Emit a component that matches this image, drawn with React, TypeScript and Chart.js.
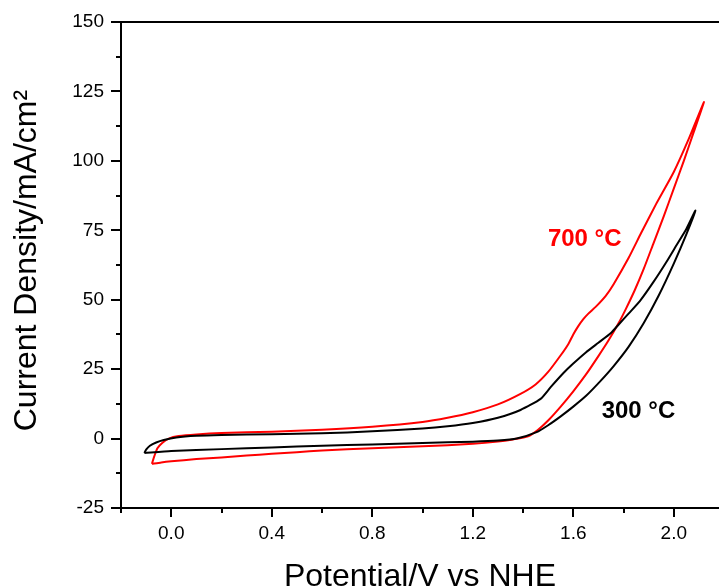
import React, { useEffect, useRef } from "react";
import { Chart, registerables } from "chart.js";

Chart.register(...registerables);

// ---- Data ----
// 300 °C loop: forward (anodic) scan then reverse scan
const black300X = [
  -0.107, -0.1, -0.085, -0.06, -0.03, 0.02, 0.1, 0.2, 0.4, 0.6, 0.8, 1.0, 1.1, 1.2, 1.3, 1.39, 1.47, 1.51, 1.56, 1.6, 1.65, 1.7, 1.75, 1.78, 1.82, 1.865, 1.92, 1.97, 2.01, 2.05, 2.086,
  2.05, 2.0, 1.94, 1.88, 1.82, 1.76, 1.706, 1.65, 1.6, 1.55, 1.5, 1.454, 1.375, 1.3, 1.2, 1.0, 0.8, 0.6, 0.4, 0.2, 0.0, -0.107,
];
const black300Y = [
  -5.2, -4.0, -2.6, -1.4, -0.5, 0.4, 1.0, 1.3, 1.6, 1.9, 2.6, 3.6, 4.4, 5.6, 7.5, 10.3, 14.3, 18.5, 23.5, 27, 31, 34.5, 38, 41, 45, 49.5, 56.5, 63.5, 69.5, 75.5, 82.1,
  73.5, 63, 51.5, 41.5, 33, 26, 20.5, 15.3, 11.5, 8, 4.8, 2.3, 0, -0.7, -1.1, -1.6, -2.1, -2.6, -3.2, -3.8, -4.5, -5.2,
];

// 700 °C loop
const red700X = [
  -0.077, -0.068, -0.055, -0.035, -0.01, 0.03, 0.1, 0.2, 0.4, 0.6, 0.8, 1.0, 1.1, 1.2, 1.3, 1.39, 1.45, 1.5, 1.55, 1.58, 1.6, 1.62, 1.64, 1.66, 1.69, 1.73, 1.76, 1.82, 1.87, 1.93, 2.0, 2.06, 2.12,
  2.08, 2.04, 2.0, 1.96, 1.92, 1.88, 1.845, 1.81, 1.78, 1.74, 1.7, 1.65, 1.6, 1.55, 1.5, 1.46, 1.42, 1.36, 1.3, 1.2, 1.0, 0.8, 0.6, 0.5, 0.4, 0.3, 0.2, 0.1, 0.0, -0.04, -0.077,
];
const red700Y = [
  -9.1, -6.5, -3.5, -1.5, 0.0, 0.9, 1.5, 2.0, 2.5, 3.2, 4.3, 6.0, 7.5, 9.5, 12.3, 16.1, 19.5, 24, 30, 34, 37.5, 40.5, 43, 45, 47.5, 51.5, 55.5, 65, 74, 84.5, 96, 108, 121.2,
  110.5, 100, 90, 80, 70.5, 61, 53.5, 46.8, 41.5, 35.3, 29.7, 23, 17, 11.5, 6.5, 3.2, 0.8, -0.3, -1.1, -1.9, -2.8, -3.5, -4.3, -4.9, -5.5, -6.1, -6.8, -7.4, -8.2, -8.6, -9.1,
];

const seriesLabels = ["300 °C", "700 °C"];
const xTickLabels = ["0.0", "0.4", "0.8", "1.2", "1.6", "2.0"];
const yTickValues = [-25, 0, 25, 50, 75, 100, 125, 150];

const X_MIN = -0.2;
const X_MAX = 2.18;
const Y_MIN = -25;
const Y_MAX = 150;

// annotation anchors in data units
const label700At = { x: 1.499, y: 69.5 };
const label300At = { x: 1.713, y: 7.45 };

const FONT = '"Liberation Sans", Arial, sans-serif';

function toPoints(xs: number[], ys: number[]) {
  return xs.map((x, i) => ({ x, y: ys[i] }));
}

const framePlugin = {
  id: "framePlugin",
  afterDatasetsDraw(chart: any) {
    const { ctx, chartArea, scales } = chart;
    const xs = scales.x;
    const ys = scales.y;
    ctx.save();
    ctx.strokeStyle = "#000";
    ctx.lineWidth = 2;
    ctx.lineCap = "butt";
    // axes + top border
    ctx.beginPath();
    ctx.moveTo(chartArea.left, chartArea.bottom + 1);
    ctx.lineTo(chartArea.left, chartArea.top - 1);
    ctx.moveTo(chartArea.left - 1, chartArea.top);
    ctx.lineTo(chartArea.right, chartArea.top);
    ctx.moveTo(chartArea.left - 1, chartArea.bottom);
    ctx.lineTo(chartArea.right, chartArea.bottom);
    ctx.stroke();

    // y ticks (major every 25, minor in between)
    ctx.beginPath();
    for (let v = Y_MIN; v <= Y_MAX + 0.001; v += 12.5) {
      const py = Math.round(ys.getPixelForValue(v));
      const major = Math.abs(v % 25) < 0.001;
      const len = major ? 10 : 5;
      ctx.moveTo(chartArea.left, py);
      ctx.lineTo(chartArea.left - len, py);
    }
    // x ticks (major every 0.4 from 0, minor every 0.2)
    for (let k = -1; k <= 11; k++) {
      const v = k * 0.2;
      if (v > X_MAX) break;
      const px = Math.round(xs.getPixelForValue(v));
      const major = k >= 0 && k % 2 === 0;
      const len = major ? 9 : 5;
      ctx.moveTo(px, chartArea.bottom);
      ctx.lineTo(px, chartArea.bottom + len);
    }
    ctx.stroke();

    // curve labels
    ctx.font = "bold 24px " + FONT;
    ctx.textAlign = "left";
    ctx.textBaseline = "alphabetic";
    ctx.fillStyle = "#ff0000";
    ctx.fillText(seriesLabels[1], xs.getPixelForValue(label700At.x), ys.getPixelForValue(label700At.y));
    ctx.fillStyle = "#000000";
    ctx.fillText(seriesLabels[0], xs.getPixelForValue(label300At.x), ys.getPixelForValue(label300At.y));
    ctx.restore();
  },
};

export default function App() {
  const ref = useRef<HTMLCanvasElement | null>(null);

  useEffect(() => {
    if (!ref.current) return;
    const chart = new Chart(ref.current, {
      type: "scatter",
      data: {
        datasets: [
          {
            label: seriesLabels[0],
            data: toPoints(black300X, black300Y),
            showLine: true,
            borderColor: "#000000",
            borderWidth: 2,
            pointRadius: 0,
            tension: 0.2,
            fill: false,
          },
          {
            label: seriesLabels[1],
            data: toPoints(red700X, red700Y),
            showLine: true,
            borderColor: "#ff0000",
            borderWidth: 2,
            pointRadius: 0,
            tension: 0.2,
            fill: false,
          },
        ],
      },
      options: {
        animation: false,
        responsive: false,
        devicePixelRatio: 1,
        layout: { padding: { top: 22, right: 0, bottom: 0, left: 0 } },
        plugins: { legend: { display: false }, tooltip: { enabled: false } },
        scales: {
          x: {
            type: "linear",
            min: X_MIN,
            max: X_MAX,
            grid: { display: false, drawTicks: false },
            border: { display: false },
            ticks: {
              stepSize: 0.2,
              includeBounds: false,
              autoSkip: false,
              maxRotation: 0,
              minRotation: 0,
              padding: 14,
              color: "#000",
              font: { family: FONT, size: 19 },
              callback: (value: any) => {
                const r = Math.round(Number(value) * 10);
                if (r >= 0 && r % 4 === 0) {
                  const idx = r / 4;
                  return xTickLabels[idx] ?? "";
                }
                return "";
              },
            },
            title: {
              display: true,
              text: "Potential/V vs NHE",
              color: "#000",
              font: { family: FONT, size: 32 },
              padding: { top: 0, bottom: -10 },
            },
            afterFit: (s: any) => {
              s.height = 78;
              s.paddingLeft = 0;
              s.paddingRight = 0;
            },
          },
          y: {
            type: "linear",
            min: Y_MIN,
            max: Y_MAX,
            grid: { display: false, drawTicks: false },
            border: { display: false },
            afterBuildTicks: (s: any) => {
              s.ticks = yTickValues.map((v) => ({ value: v }));
            },
            ticks: {
              padding: 17,
              color: "#000",
              font: { family: FONT, size: 19 },
              callback: (value: any) => String(value),
            },
            title: {
              display: true,
              text: " Current Density/mA/cm²",
              color: "#000",
              font: { family: FONT, size: 32 },
              padding: { top: 7.5, bottom: 0 },
            },
            afterFit: (s: any) => {
              s.width = 121;
              s.paddingTop = 0;
              s.paddingBottom = 0;
            },
          },
        },
      },
      plugins: [framePlugin],
    } as any);
    return () => chart.destroy();
  }, []);

  return (
    <canvas
      ref={ref}
      width={719}
      height={586}
      style={{ position: "absolute", left: 0, top: 0, width: 719, height: 586, display: "block" }}
    />
  );
}
